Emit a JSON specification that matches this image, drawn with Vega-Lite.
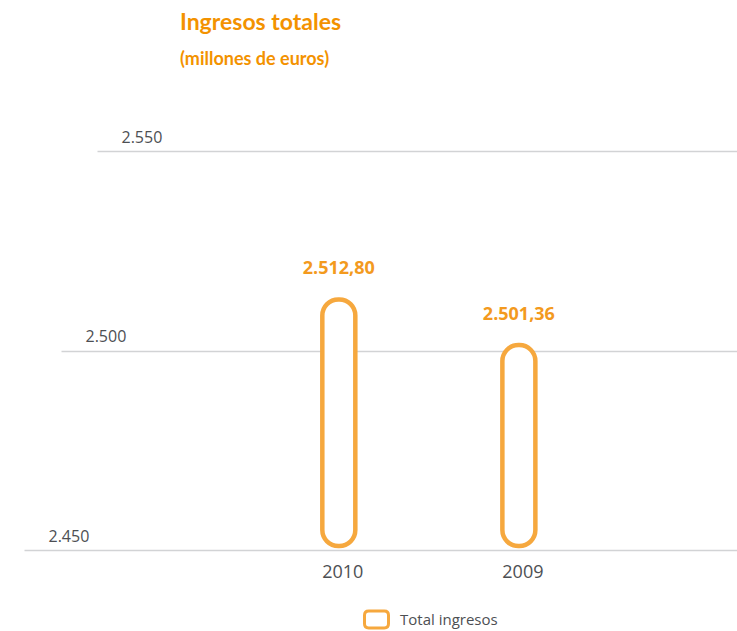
{
  "$schema": "https://vega.github.io/schema/vega-lite/v6.json",
  "autosize": "none",
  "width": 713,
  "height": 399,
  "padding": {"left": 24, "top": 151, "right": 0, "bottom": 81},
  "background": "white",
  "config": {
    "view": {"stroke": null},
    "locale": {"number": {"decimal": ",", "thousands": ".", "grouping": [3], "currency": ["", " €"]}},
    "font": "Open Sans"
  },
  "title": {
    "text": "Ingresos totales",
    "subtitle": "(millones de euros)",
    "anchor": "start",
    "frame": "group",
    "dx": 156,
    "offset": 60,
    "font": "Lato",
    "fontSize": 23,
    "fontWeight": "bold",
    "color": "#F39200",
    "subtitleFont": "Lato",
    "subtitleFontSize": 18,
    "subtitleFontWeight": "bold",
    "subtitleColor": "#F39200",
    "subtitlePadding": 16
  },
  "data": {
    "values": [
      {"anio": "2010", "ingresos": 2512.80, "serie": "Total ingresos"},
      {"anio": "2009", "ingresos": 2501.36, "serie": "Total ingresos"}
    ]
  },
  "encoding": {
    "x": {
      "field": "anio",
      "type": "nominal",
      "sort": null,
      "scale": {"paddingInner": 0, "paddingOuter": 0.98, "align": 0.637},
      "axis": {
        "title": null,
        "domain": false,
        "ticks": false,
        "labelAngle": 0,
        "labelFontSize": 18,
        "labelColor": "#4d4f53",
        "labelPadding": 13,
        "labelOffset": 4
      }
    }
  },
  "layer": [
    {
      "mark": {"type": "bar", "width": 33, "cornerRadius": 16, "fill": "white", "strokeWidth": 4.5},
      "encoding": {
        "y": {
          "field": "ingresos",
          "type": "quantitative",
          "scale": {"domain": [2450, 2550], "zero": false, "nice": false},
          "axis": {
            "title": null,
            "orient": "right",
            "values": [2450, 2500, 2550],
            "format": ",.0f",
            "domain": false,
            "grid": false,
            "ticks": true,
            "tickColor": "#d2d3d5",
            "tickWidth": 1.5,
            "tickSize": {
              "condition": [
                {"test": "datum.value == 2550", "value": -640},
                {"test": "datum.value == 2500", "value": -676}
              ],
              "value": -713
            },
            "labelPadding": 24,
            "labelFontSize": 16,
            "labelColor": "#4d4f53",
            "labelAlign": "left",
            "labelBaseline": "alphabetic",
            "labelOffset": -9
          }
        },
        "y2": {"datum": 2451},
        "stroke": {
          "field": "serie",
          "type": "nominal",
          "scale": {"range": ["#F6A83E"]},
          "legend": {
            "title": null,
            "orient": "none",
            "legendX": 339,
            "legendY": 455,
            "padding": 0,
            "symbolType": "M -0.65 -0.7 L 0.65 -0.7 Q 1 -0.7 1 -0.35 L 1 0.35 Q 1 0.7 0.65 0.7 L -0.65 0.7 Q -1 0.7 -1 0.35 L -1 -0.35 Q -1 -0.7 -0.65 -0.7 Z",
            "symbolSize": 576,
            "symbolStrokeWidth": 3,
            "symbolFillColor": "white",
            "labelFontSize": 15,
            "labelColor": "#4d4f53",
            "labelOffset": 10
          }
        }
      }
    },
    {
      "mark": {"type": "text", "fontSize": 18, "fontWeight": "bold", "color": "#F39A1E", "baseline": "middle", "dy": -30},
      "encoding": {
        "y": {"field": "ingresos", "type": "quantitative"},
        "text": {"field": "ingresos", "type": "quantitative", "format": ",.2f"}
      }
    }
  ]
}
